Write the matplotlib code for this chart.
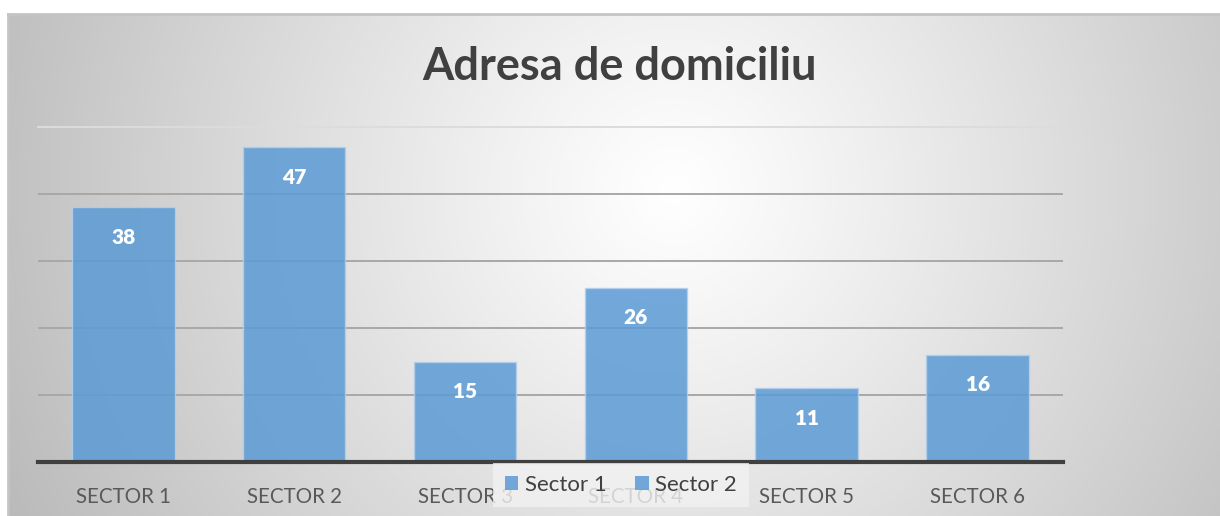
import numpy as np
import matplotlib
matplotlib.use("Agg")
import matplotlib.pyplot as plt
from matplotlib.patches import Patch

categories = ["SECTOR 1", "SECTOR 2", "SECTOR 3", "SECTOR 4", "SECTOR 5", "SECTOR 6"]
values = [38, 47, 15, 26, 11, 16]
legend_labels = ["Sector 1", "Sector 2"]
title = "Adresa de domiciliu"

plt.rcParams['font.family'] = ['Lato', 'DejaVu Sans']

W, H = 1220, 516
fig = plt.figure(figsize=(W / 100, H / 100), dpi=100)
fig.patch.set_facecolor('white')

# background radial gradient
bx0, by_top = 8, 14
bg = fig.add_axes([bx0 / W, 0, 1 - bx0 / W, (H - by_top) / H])
bg.set_axis_off()
nx, ny = 600, 250
xx, yy = np.meshgrid(np.linspace(0, 1, nx), np.linspace(0, 1, ny))
cx, cy = 0.55, 0.35
d = np.sqrt(((xx - cx) * 2.4) ** 2 + ((yy - cy) * 1.0) ** 2)
d = np.clip(d / d.max(), 0, 1)
v = 1.0 - 0.27 * d ** 1.1
img = np.dstack([v, v, v])
bg.imshow(img, extent=[0, 1, 0, 1], origin='upper', aspect='auto')
bg.set_xlim(0, 1); bg.set_ylim(0, 1)
bg.plot([0, 1], [1, 1], color='#c4c4c4', lw=2, clip_on=False)
bg.plot([0, 0], [0, 1], color='#c4c4c4', lw=2, clip_on=False)

# main axes
left, right = 38, 1063
base, top = 462, 127
ax = fig.add_axes([left / W, (H - base) / H, (right - left) / W, (base - top) / H])
ax.patch.set_alpha(0)
x = np.arange(len(categories))
ax.set_xlim(-0.5, len(categories) - 0.5)
ax.set_ylim(0, 50)
for gy in [10, 20, 30, 40]:
    ax.axhline(gy, color='#a8a8a8', lw=1.4, zorder=1)
ax.axhline(50, color='#dcdcdc', lw=1.4, zorder=1, clip_on=False)
bars = ax.bar(x, values, width=0.6, color='#5B9BD5', alpha=0.85,
              edgecolor='#b3d0ec', linewidth=1.0, zorder=2)
ax.axhline(0, color='#404040', lw=3.0, zorder=3, clip_on=False)
for xi, val in zip(x, values):
    ax.annotate(str(val), (xi, val), xytext=(0, -30), textcoords='offset pixels',
                ha='center', va='center', color='white', fontsize=15, fontweight='heavy', zorder=4)
for s in ax.spines.values():
    s.set_visible(False)
ax.set_yticks([])
ax.set_xticks(x)
ax.set_xticklabels(categories, fontsize=14.8, color='#595959')
ax.tick_params(axis='x', length=0, pad=18)

fig.text(619 / W, 1 - 67 / H, title, ha='center', va='center', fontsize=32.5,
         fontweight='bold', color='#404040')

handles = [Patch(facecolor='#5B9BD5', alpha=0.85, edgecolor='none') for _ in legend_labels]
leg = fig.legend(handles, legend_labels, loc='center', bbox_to_anchor=(621 / W, 1 - 485 / H),
                 ncol=2, frameon=True, fontsize=16, handlelength=0.6, handleheight=0.6,
                 handletextpad=0.3, columnspacing=1.3, borderpad=0.55)
leg.get_frame().set_facecolor('#f2f2f2')
leg.get_frame().set_edgecolor('none')
leg.get_frame().set_alpha(0.8)
leg.get_frame().set_boxstyle('square', pad=0)
for t in leg.get_texts():
    t.set_color('#404040')

fig.savefig('out.png', dpi=100)
